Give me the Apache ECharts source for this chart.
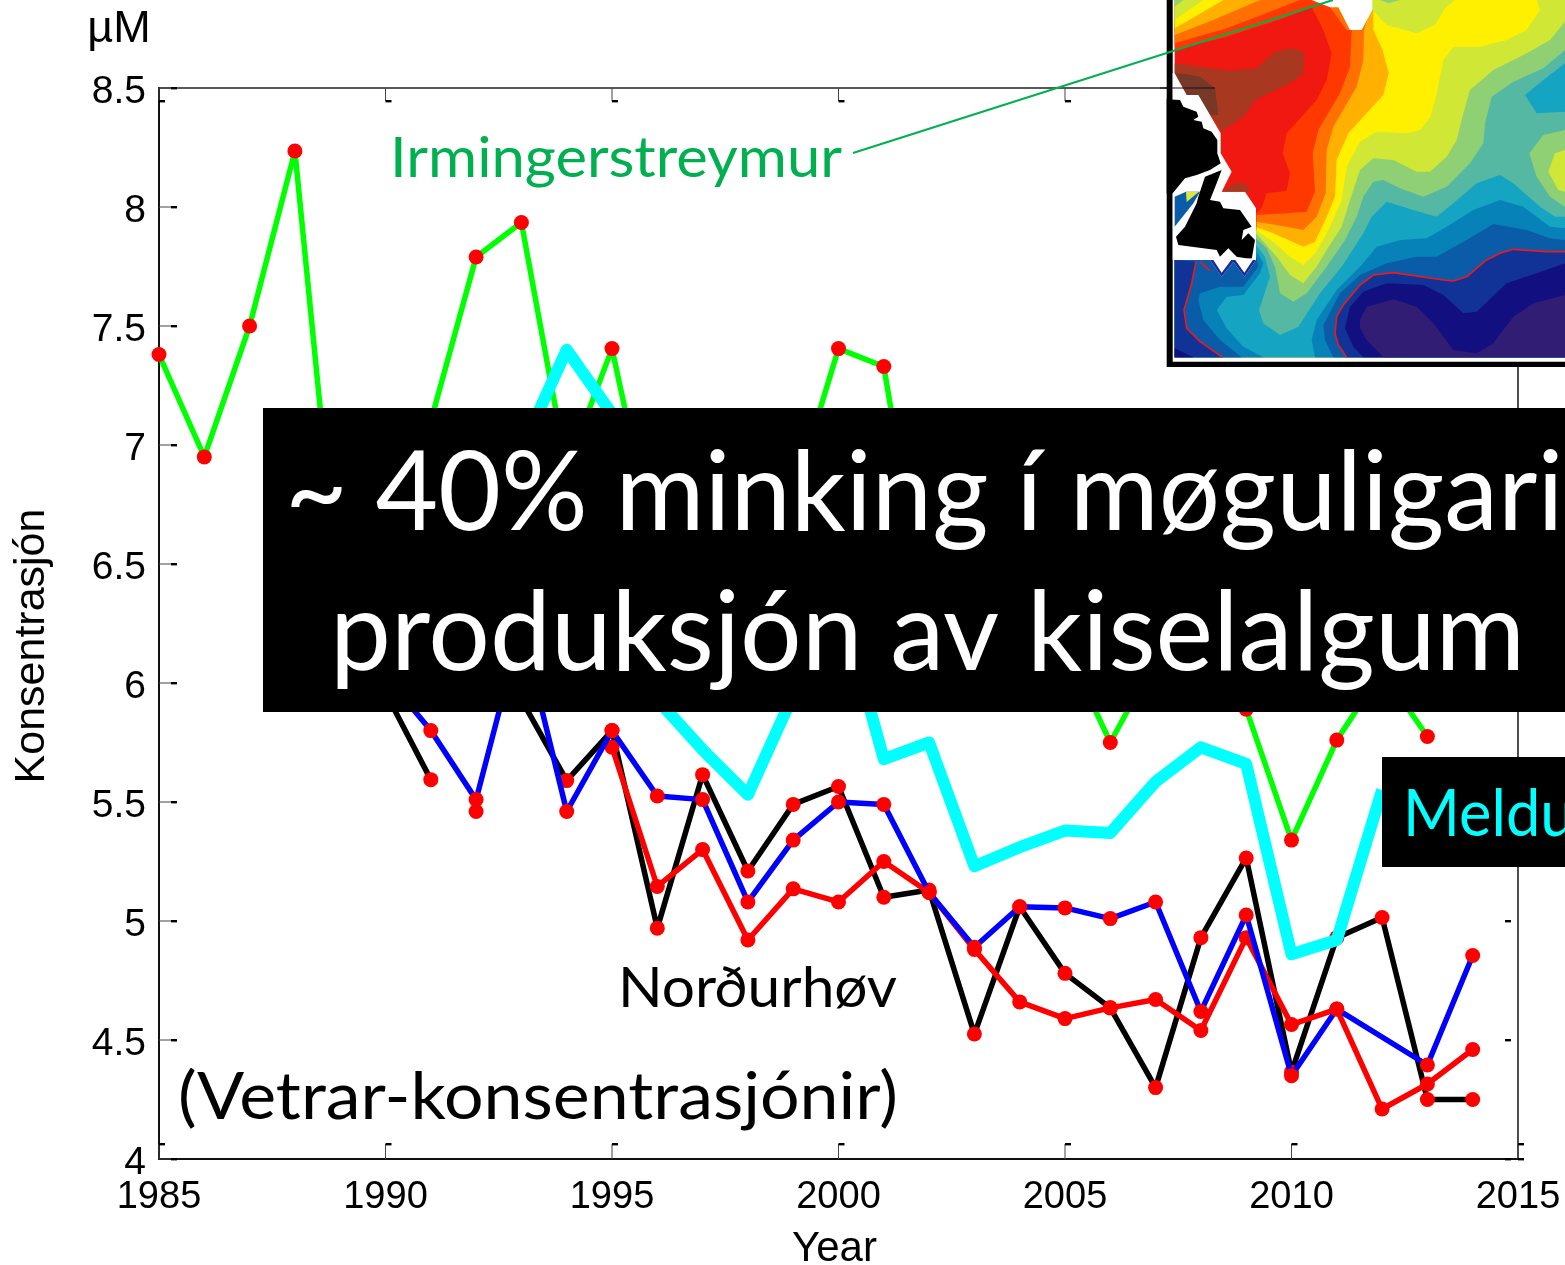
<!DOCTYPE html>
<html><head><meta charset="utf-8">
<style>html,body{margin:0;padding:0;background:#fff;overflow:hidden}#c{width:1565px;height:1265px}</style>
<script src="https://cdn.jsdelivr.net/npm/echarts@6/dist/echarts.min.js"></script>
</head><body><div id="c"></div>
<script>
const years=[1985,1986,1987,1988,1989,1990,1991,1992,1993,1994,1995,1996,1997,1998,1999,2000,2001,2002,2003,2004,2005,2006,2007,2008,2009,2010,2011,2012,2013,2014];
const irminger=[7.38,6.95,7.5,8.235,6.3,6.6,7.1,7.79,7.935,6.9,7.405,6.52,6.7,6.6,6.78,7.405,7.33,6.2,6.1,6.3,6.16,5.75,6.1,6.2,5.89,5.34,5.76,6.05,5.775,null];
const meldur=[null,null,null,null,null,null,null,null,6.98,7.4,7.13,5.93,5.72,5.53,5.95,6.37,5.68,5.75,5.23,5.31,5.38,5.37,5.585,5.73,5.66,4.86,4.92,5.55,null,null];
const nordurBlack=[null,null,null,null,null,5.96,5.594,null,5.93,5.59,5.8,4.97,5.615,5.21,5.49,5.565,5.10,5.13,4.525,5.06,4.78,4.635,4.30,4.93,5.265,4.365,4.93,5.015,4.25,4.25];
const nordurBlue=[null,null,null,null,null,6.03,5.80,5.51,6.24,5.46,5.8,5.525,5.51,5.08,5.34,5.50,5.49,5.12,4.89,5.06,5.055,5.01,5.08,4.62,5.025,4.35,4.63,null,4.395,4.855];
const nordurRed=[null,null,null,null,null,null,null,5.46,null,null,5.73,5.145,5.30,4.92,5.135,5.08,5.25,5.12,4.88,4.66,4.59,4.635,4.67,4.54,4.93,4.565,4.63,4.21,4.315,4.46];
const xTicks=[1985,1990,1995,2000,2005,2010,2015];
const yTicks=[4,4.5,5,5.5,6,6.5,7,7.5,8,8.5];
const labels={unit:'µM',xName:'Year',yName:'Konsentrasjón',irminger:'Irmingerstreymur',nordur:'Norðurhøv',winter:'(Vetrar-konsentrasjónir)',line1:'~ 40% minking í møguligari',line2:'produksjón av kiselalgum',meld:'Meldu'};

const pairs=a=>a.map((v,i)=>[years[i],v]);
const chart=echarts.init(document.getElementById('c'),null,{renderer:'canvas'});

function lineSeries(name,data,color,width,z,extra){
  return Object.assign({type:'line',name,data:pairs(data),z,clip:false,silent:true,
    symbol:'circle',symbolSize:15,showAllSymbol:true,
    lineStyle:{color,width,join:'round'},itemStyle:{color:'#ff0000'},animation:false},extra||{});
}
function thin(x1,y1,x2,y2){return {type:'line',shape:{x1,y1,x2,y2},style:{stroke:'#444',lineWidth:1}};}
function dash(x,y,w){return {type:'rect',shape:{x,y:y-1,width:w,height:2.4},style:{fill:'#000'}};}
function xTick(p,api){
  const a=api.coord([api.value(0),4]),b=api.coord([api.value(0),8.5]);
  return {type:'group',children:[thin(a[0],a[1],a[0],a[1]-15),dash(a[0],a[1]-15,6),thin(b[0],b[1],b[0],b[1]+13),dash(b[0],b[1]+13,6)]};
}
function yTick(p,api){
  const a=api.coord([1985,api.value(0)]),b=api.coord([2015,api.value(0)]);
  const kids=[thin(a[0],a[1],a[0]+12,a[1]),dash(a[0]+12,a[1],6),dash(b[0]-13,b[1],6)];
  if(api.value(0)===4) kids.push(dash(b[0],b[1],6));
  return {type:'group',children:kids};
}

/* inset map, drawn in 3x crop units */
const M=p=>[1160+p[0]/3,p[1]/3];
const poly=(pts,fill)=>({type:'polygon',z:20,silent:true,shape:{points:pts.map(M)},style:{fill}});
const stroke=(pts,col,w)=>({type:'polyline',z:21,silent:true,shape:{points:pts.map(M)},style:{stroke:col,lineWidth:w,fill:null}});
const landTail=[[288,780],[44,780],[44,1072],[1215,1072]];
const c1=[[44,150],[200,110],[370,55],[455,22],[470,50],[490,90],[515,160],[500,240],[470,300],[380,400],[368,460],[390,520],[380,572],[320,580],[305,625],[288,640]];
const c2=[[575,90],[570,200],[540,280],[475,390],[458,460],[465,575],[440,635],[380,640],[290,645]];
const c3=[[612,90],[610,180],[590,260],[520,380],[500,450],[497,580],[470,650],[430,690],[380,680],[290,665]];
const c4=[[640,90],[668,150],[686,220],[670,285],[565,400],[530,480],[525,590],[500,650],[465,725],[430,740],[340,700],[290,682]];
const c5=[[1130,0],[1140,30],[1100,90],[1040,120],[960,140],[880,140],[850,180],[830,280],[812,350],[780,390],[740,400],[650,395],[600,425],[560,500],[545,600],[510,680],[470,755],[430,795],[390,770],[345,730],[288,690]];
const c6=[[1215,65],[1170,120],[1100,160],[1000,210],[930,270],[910,340],[890,420],[860,470],[810,515],[770,515],[700,480],[640,475],[600,510],[570,600],[545,680],[500,750],[470,800],[430,850],[390,825],[350,770],[288,700]];
const c7=[[1215,150],[1150,205],[1060,245],[995,290],[975,370],[970,430],[930,490],[860,560],[790,590],[720,565],[670,540],[640,545],[610,590],[590,650],[555,720],[500,800],[440,880],[400,905],[360,880],[345,800],[320,745],[288,715]];
const c8=[[1215,650],[1185,650],[1140,620],[1060,550],[1020,525],[950,550],[880,610],[830,650],[760,630],[680,605],[635,650],[610,700],[545,800],[480,880],[415,980],[360,1005],[310,970],[297,930],[330,830],[315,770],[288,735]];
const c9=[[1215,685],[1170,680],[1090,620],[1020,600],[940,630],[860,680],[800,715],[720,720],[650,740],[600,800],[530,870],[470,960],[455,1020],[465,1072]];
const c10=[[1215,720],[1170,715],[1100,690],[1000,672],[920,720],[830,770],[770,770],[680,790],[600,825],[540,880],[490,975],[495,1020],[520,1072]];
const redR=[[1215,755],[1160,755],[1060,748],[1020,760],[980,780],[920,830],[880,843],[850,840],[700,818],[640,825],[600,855],[550,915],[530,950],[525,1000],[535,1035],[560,1072]];
const redL=[[188,1072],[120,1025],[80,985],[72,930],[95,850],[108,785]];
const c12=[[1215,790],[1130,820],[1040,850],[950,935],[910,940],[850,885],[790,855],[680,850],[610,875],[570,920],[555,985],[580,1040],[610,1072]];
const c13=[[600,960],[620,920],[700,898],[770,920],[820,970],[880,1050],[950,1060],[1000,1030],[1060,950],[1120,910],[1215,885],[1215,1072],[670,1072],[620,1020],[600,985]];
const inset=[
  {type:'rect',z:19,silent:true,shape:{x:1166.7,y:0,width:400,height:367},style:{fill:'#000'}},
  {type:'rect',z:19,silent:true,shape:{x:1172.7,y:0,width:400,height:361.7},style:{fill:'#fff'}},
  {type:'rect',z:19,silent:true,shape:{x:1174.7,y:0,width:400,height:357.3},style:{fill:'#f01810'}},
  poly(c1.concat(landTail,[[1215,0],[44,0]]),'#ff3800'),
  poly([[44,130],[200,85],[330,35],[420,0],[44,0]],'#ff7000'),
  poly([[44,105],[160,60],[300,0],[44,0]],'#ffb000'),
  poly([[44,85],[130,35],[190,0],[44,0]],'#fff000'),
  poly([[44,60],[130,0],[44,0]],'#d0e835'),
  poly([[44,20],[70,0],[44,0]],'#90d074'),
  poly([[510,22],[560,90],[600,90],[600,0]],'#ff7000'),
  poly(c2.concat(landTail,[[1215,0],[600,0]]),'#ff7000'),
  poly(c3.concat(landTail,[[1215,0],[640,0]]),'#ffb000'),
  poly(c4.concat(landTail,[[1215,0],[640,0]]),'#fff000'),
  poly(c5.concat(landTail,[[1215,0]]),'#d0e835'),
  poly([[637,30],[680,75],[770,100],[825,75],[855,25],[885,0],[620,0]],'#d0e835'),
  poly([[660,0],[685,10],[720,0]],'#90d074'),
  poly(c6.concat(landTail),'#90d074'),
  poly(c7.concat(landTail),'#55b8a3'),
  poly([[1095,285],[1130,340],[1215,335],[1215,190],[1150,240]],'#15a5c2'),
  poly([[1108,460],[1150,405],[1215,390],[1215,620],[1170,590],[1130,530]],'#90d074'),
  poly([[1165,515],[1185,460],[1215,450],[1215,575],[1195,570]],'#d0e835'),
  poly(c8.concat(landTail),'#15a5c2'),
  poly(c9.concat([[1215,1072]]),'#0782b8'),
  poly([[310,1072],[250,1040],[200,985],[170,930],[200,890],[250,885],[300,820],[310,790],[290,755],[288,780],[44,780],[44,1072]],'#0782b8'),
  poly(c10.concat([[1215,1072]]),'#0a5ca8'),
  poly([[245,1072],[180,1020],[130,960],[115,900],[120,880],[180,860],[250,860],[295,800],[290,770],[288,780],[44,780],[44,1072]],'#0a5ca8'),
  poly(redR.concat([[1215,1072]]),'#113297'),
  poly(redL.concat([[44,780],[44,1072]]),'#113297'),
  poly(c12.concat([[1215,1072]]),'#120f80'),
  poly([[44,1045],[100,1072],[44,1072]],'#120f80'),
  poly(c13,'#311d73'),
  stroke(redR,'#f01818',1.6),stroke(redL,'#f01818',1.6),stroke([[120,785],[150,812]],'#f01818',1.6),
  poly([[44,190],[120,200],[210,212],[290,205],[345,155],[395,145],[432,155],[430,222],[380,255],[290,297],[250,350],[185,395],[150,340],[110,285],[44,220]],'#a83820'),
  poly([[44,220],[78,222],[120,230],[165,265],[175,345],[150,345],[112,285],[80,285]],'#783828'),
  poly([[38,220],[44,220],[80,285],[115,285],[182,400],[182,460],[215,515],[185,575],[255,575],[288,625],[288,780],[253,830],[220,785],[185,830],[150,780],[38,780]],'#fff'),
  poly([[185,575],[225,550],[255,550],[272,575]],'#a83820'),
  poly([[44,590],[78,575],[120,575],[100,610],[44,680]],'#0a5ca8'),
  poly([[78,575],[117,575],[80,606]],'#d8e840'),
  poly([[20,298],[60,300],[70,320],[110,335],[115,350],[100,360],[125,365],[130,385],[155,395],[172,420],[172,460],[182,490],[150,510],[110,525],[75,535],[38,580],[20,580]],'#000'),
  poly([[135,530],[185,510],[170,550],[150,600],[180,605],[190,625],[240,630],[275,680],[250,690],[245,720],[265,700],[285,720],[275,778],[230,770],[205,745],[180,770],[170,750],[55,735],[48,710],[75,680],[110,610],[115,590]],'#000'),
  poly([[180,780],[150,780],[185,830],[220,785],[253,830],[288,780]],'#1a2c9a'),
  poly([[160,780],[185,818],[220,772],[253,818],[282,775]],'#fff'),
  poly([[455,0],[510,22],[535,22],[570,90],[605,90],[637,30],[637,0]],'#fff'),
  {type:'line',z:21,silent:true,shape:{x1:1160,y1:88,x2:1215,y2:88},style:{stroke:'#111',lineWidth:1}}
];

const FF='Lato';
const ctx=document.createElement('canvas').getContext('2d');
function fit(t,size,w){ctx.font=size+'px '+FF;return w/ctx.measureText(t).width;}
function txt(t,x,y,size,fill,sx,z){
  return {type:'text',z:z,silent:true,x:x,y:y,scaleX:sx,originX:0,originY:0,
    style:{text:t,fill,font:size+'px '+FF,textAlign:'left',textVerticalAlign:'bottom',textBaseline:'bottom'}};
}
const bigScale=fit(labels.line2,110,1195);
const overlays=[
  {type:'line',z:30,silent:true,shape:{x1:853,y1:153,x2:1333,y2:0},style:{stroke:'#00b050',lineWidth:2}},
  {type:'text',z:10,silent:true,rotation:Math.PI/2,x:32,y:646,
    style:{text:labels.yName,fill:'#000',font:'43px "Liberation Sans"',textAlign:'center',textVerticalAlign:'middle'}},
  {type:'text',z:10,silent:true,x:119,y:30,
    style:{text:labels.unit,fill:'#000',font:'45px "Liberation Sans"',textAlign:'center',textVerticalAlign:'middle'}},
  txt(labels.irminger,390,187,57,'#00b050',fit(labels.irminger,57,452),10),
  txt(labels.nordur,618,1017,57,'#000',fit(labels.nordur,57,279),10),
  txt(labels.winter,178,1131,66,'#000',fit(labels.winter,66,720),10),
  {type:'rect',z:40,silent:true,shape:{x:263,y:408,width:1302,height:304},style:{fill:'#000'}},
  txt(labels.line1,285,550,110,'#fff',bigScale*0.995,41),
  txt(labels.line2,330,690,110,'#fff',bigScale,41),
  {type:'rect',z:40,silent:true,shape:{x:1382,y:757,width:183,height:110},style:{fill:'#000'}},
  txt(labels.meld,1403,848,66,'#00ffff',0.93,41)
];

chart.setOption({
  animation:false,backgroundColor:'#fff',
  grid:{left:159,right:47,top:88,bottom:106,outerBoundsMode:'none',show:true,borderColor:'#222',borderWidth:1.6,backgroundColor:'transparent'},
  xAxis:{type:'value',min:1985,max:2015,interval:5,splitLine:{show:false},axisTick:{show:false},
    axisLine:{show:true,lineStyle:{color:'#111',width:2}},
    name:labels.xName,nameLocation:'middle',nameGap:69,nameTextStyle:{color:'#000',fontSize:42,fontFamily:'Liberation Sans',padding:[0,8,0,0]},
    axisLabel:{color:'#000',fontSize:38,fontFamily:'Liberation Sans',margin:20,formatter:v=>String(v),hideOverlap:false,showMinLabel:true,showMaxLabel:true}},
  yAxis:{type:'value',min:4,max:8.5,interval:0.5,splitLine:{show:false},axisTick:{show:false},
    axisLine:{show:true,lineStyle:{color:'#111',width:2}},
    axisLabel:{color:'#000',fontSize:39,fontFamily:'Liberation Sans',margin:13,verticalAlign:'top',lineHeight:8,formatter:v=>String(v),showMinLabel:true,showMaxLabel:true}},
  series:[
    {type:'custom',silent:true,z:2,data:xTicks.map(v=>[v]),encode:{x:0},renderItem:xTick,clip:false},
    {type:'custom',silent:true,z:2,data:yTicks.map(v=>[v]),encode:{y:0},renderItem:yTick,clip:false},
    lineSeries('Irmingerstreymur',irminger,'#00ff00',5.5,3),
    lineSeries('Norðurhøv svart',nordurBlack,'#000000',5.5,4),
    lineSeries('Norðurhøv reytt',nordurRed,'#ff0000',5.5,5),
    lineSeries('Norðurhøv blátt',nordurBlue,'#0000ff',5.5,6,{connectNulls:true}),
    lineSeries('Meldur',meldur,'#00ffff',12,7,{symbol:'none',showSymbol:false})
  ],
  graphic:{elements:inset.concat(overlays)}
});
</script></body></html>
